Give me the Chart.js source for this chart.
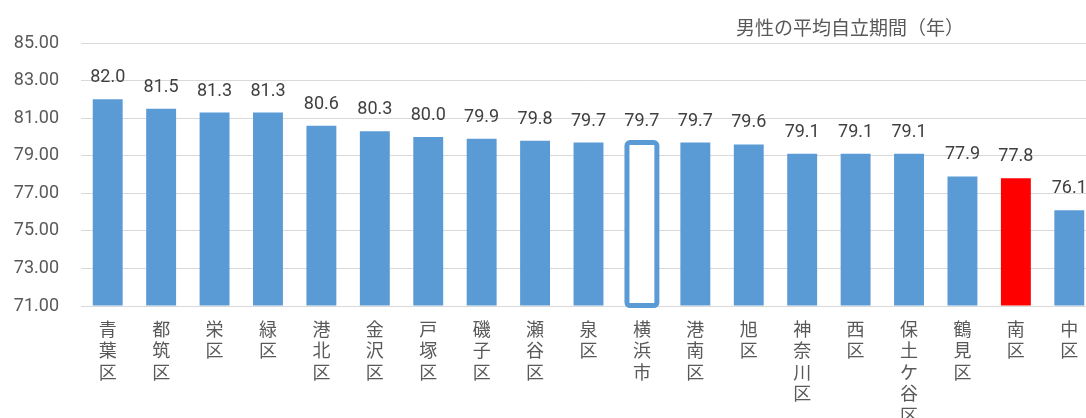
<!DOCTYPE html>
<html>
<head>
<meta charset="utf-8">
<script src="https://cdn.jsdelivr.net/npm/chart.js@4"></script>
<style>
  html, body { margin: 0; padding: 0; background: #fff; overflow: hidden; }
  #wrap { width: 1096px; height: 418px; }
</style>
</head>
<body>
<div id="wrap"><canvas id="chart"></canvas></div>
<script>
// 区別 男性の平均自立期間
const wards = ['青葉区', '都筑区', '栄区', '緑区', '港北区', '金沢区', '戸塚区', '磯子区', '瀬谷区', '泉区',
  '横浜市', '港南区', '旭区', '神奈川区', '西区', '保土ケ谷区', '鶴見区', '南区', '中区'];
const years = [82.0, 81.5, 81.3, 81.3, 80.6, 80.3, 80.0, 79.9, 79.8, 79.7,
  79.7, 79.7, 79.6, 79.1, 79.1, 79.1, 77.9, 77.8, 76.1];
const yTicks = [71, 73, 75, 77, 79, 81, 83, 85];
const titleText = '男性の平均自立期間（年）';

const BLUE = '#5b9bd5';
const CJK = '"Noto Sans CJK JP", "Noto Sans", sans-serif';
const NUM = 'Roboto, "Noto Sans CJK JP", sans-serif';

// 横浜市 is outlined only (outline drawn by plugin), 南区 in red
const fills = wards.map(w => w === '横浜市' ? '#ffffff' : (w === '南区' ? '#ff0000' : BLUE));

// vertical labels: one character per line
const verticalLabels = wards.map(w => Array.from(w));

const cityOutline = {
  id: 'cityOutline',
  afterDatasetsDraw(chart) {
    const ctx = chart.ctx;
    const bar = chart.getDatasetMeta(0).data[wards.indexOf('横浜市')];
    const half = bar.width / 2;
    ctx.save();
    ctx.strokeStyle = BLUE;
    ctx.lineWidth = 5;
    ctx.beginPath();
    ctx.roundRect(bar.x - half, bar.y, bar.width, bar.base - bar.y, 3);
    ctx.stroke();
    ctx.restore();
  }
};

const valueLabels = {
  id: 'valueLabels',
  afterDatasetsDraw(chart) {
    const ctx = chart.ctx;
    const meta = chart.getDatasetMeta(0);
    ctx.save();
    ctx.font = '18px ' + NUM;
    ctx.fillStyle = '#404040';
    ctx.textAlign = 'center';
    ctx.textBaseline = 'alphabetic';
    meta.data.forEach((bar, i) => {
      ctx.fillText(years[i].toFixed(1), bar.x, bar.y - 17);
    });
    ctx.restore();
  }
};

const cornerTitle = {
  id: 'cornerTitle',
  afterDraw(chart) {
    const ctx = chart.ctx;
    ctx.save();
    ctx.font = '19px ' + CJK;
    ctx.fillStyle = '#595959';
    ctx.textAlign = 'left';
    ctx.textBaseline = 'middle';
    ctx.fillText(titleText, 736, 28);
    ctx.restore();
  }
};

new Chart(document.getElementById('chart'), {
  type: 'bar',
  data: {
    labels: verticalLabels,
    datasets: [{
      data: years,
      backgroundColor: fills,
      borderWidth: 0,
      base: 71,
      categoryPercentage: 1,
      barPercentage: 0.56
    }]
  },
  options: {
    responsive: true,
    maintainAspectRatio: false,
    animation: false,
    layout: { padding: { top: 43, right: 0, left: 0, bottom: 0 } },
    plugins: {
      legend: { display: false },
      tooltip: { enabled: false }
    },
    scales: {
      x: {
        grid: { display: false, drawTicks: false },
        border: { display: true, color: '#d9d9d9', width: 1 },
        ticks: {
          color: '#595959',
          font: { family: CJK, size: 18, lineHeight: 1.2 },
          padding: 12,
          maxRotation: 0,
          autoSkip: false
        },
        afterFit(scale) { scale.height = 112; }
      },
      y: {
        min: 71,
        max: 85,
        afterBuildTicks(scale) { scale.ticks = yTicks.map(v => ({ value: v })); },
        grid: { color: '#d9d9d9', lineWidth: 1, drawTicks: false },
        border: { display: false },
        ticks: {
          color: '#595959',
          font: { family: NUM, size: 18 },
          padding: 22,
          callback: v => Number(v).toFixed(2)
        },
        afterFit(scale) { scale.width = 81; }
      }
    }
  },
  plugins: [cityOutline, valueLabels, cornerTitle]
});
</script>
</body>
</html>
